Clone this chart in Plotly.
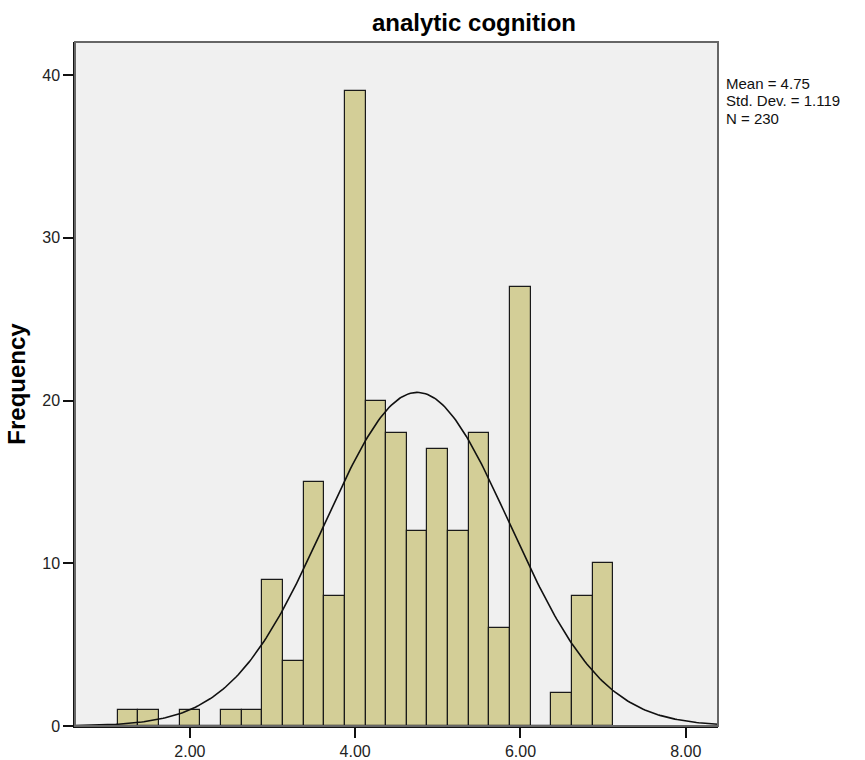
import numpy as np
import plotly.graph_objects as go

# Data (bin width 0.25)
bin_centers = [1.25, 1.5, 1.75, 2.0, 2.25, 2.5, 2.75, 3.0, 3.25, 3.5, 3.75, 4.0,
               4.25, 4.5, 4.75, 5.0, 5.25, 5.5, 5.75, 6.0, 6.25, 6.5, 6.75, 7.0]
frequencies = [1, 1, 0, 1, 0, 1, 1, 9, 4, 15, 8, 39,
               20, 18, 12, 17, 12, 18, 6, 27, 0, 2, 8, 10]
bin_width = 0.25
mean_val = 4.75
sd_val = 1.119
n_val = 230
x_tickvals = [2, 4, 6, 8]
x_ticktext = ["2.00", "4.00", "6.00", "8.00"]
y_tickvals = [0, 10, 20, 30, 40]
stats_lines = [f"Mean = {mean_val:.2f}", f"Std. Dev. = {sd_val:.3f}", f"N = {n_val}"]

FONT = "Liberation Sans, Arial, sans-serif"

PLOT_TOP, PLOT_BOTTOM = 42, 726
PLOT_H = PLOT_BOTTOM - PLOT_TOP

def py_to_paper(py):
    return 1 - (py - PLOT_TOP) / PLOT_H

xc = np.linspace(0.61, 8.39, 300)
yc = n_val * bin_width / (sd_val * np.sqrt(2 * np.pi)) * np.exp(-0.5 * ((xc - mean_val) / sd_val) ** 2)

fig = go.Figure()
fig.add_trace(go.Bar(
    x=bin_centers, y=frequencies, width=bin_width,
    marker=dict(color="#D3CE97", line=dict(color="#1a1a1a", width=1.2)),
    showlegend=False, hoverinfo="x+y",
))
fig.add_trace(go.Scatter(
    x=xc, y=yc, mode="lines", line=dict(color="#111111", width=1.6),
    showlegend=False, hoverinfo="skip",
))

annotations = []
for i, line in enumerate(stats_lines):
    annotations.append(dict(
        xref="paper", yref="paper", x=1, y=py_to_paper(83 + 17.5 * i),
        xanchor="left", yanchor="middle", xshift=7, align="left", showarrow=False,
        borderpad=0,
        text=line, font=dict(family=FONT, size=15, color="#111111"),
    ))

fig.update_layout(
    width=865, height=760,
    margin=dict(l=75, r=147, t=PLOT_TOP, b=760 - PLOT_BOTTOM),
    paper_bgcolor="white", plot_bgcolor="#F0F0F0",
    bargap=0,
    font=dict(family=FONT, color="#222222", size=16),
    title=dict(text="<b>analytic cognition</b>", x=474 / 865, xanchor="center",
               y=1 - 23 / 760, yanchor="middle",
               font=dict(family=FONT, size=24, color="#000000")),
    xaxis=dict(range=[0.61, 8.39], tickvals=x_tickvals, ticktext=x_ticktext,
               automargin=False,
               showgrid=False, zeroline=False, showline=True, linecolor="#111111",
               linewidth=1.5, ticks="outside", ticklen=10, tickwidth=1.5,
               tickcolor="#111111", tickfont=dict(family=FONT, size=16, color="#222222")),
    yaxis=dict(range=[0, 42.03], tickvals=y_tickvals, showgrid=False, zeroline=False,
               automargin=False,
               showline=True, linecolor="#111111", linewidth=1.5, ticks="outside",
               ticklen=10, tickwidth=1.5, tickcolor="#111111",
               tickfont=dict(family=FONT, size=16, color="#222222"),
               title=dict(text="<b>Frequency</b>", standoff=10,
                          font=dict(family=FONT, size=24, color="#000000"))),
    shapes=[dict(type="rect", xref="paper", yref="paper", x0=0, y0=0, x1=1, y1=1,
                 line=dict(color="#666666", width=2), fillcolor="rgba(0,0,0,0)", layer="above")],
    annotations=annotations,
)

fig.write_html("out.html")
